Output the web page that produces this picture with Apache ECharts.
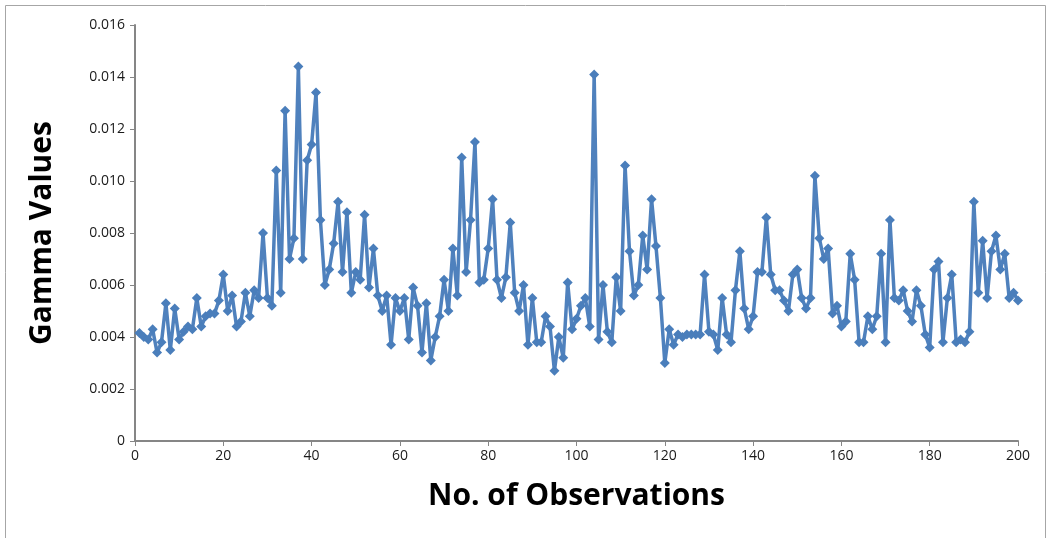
<!DOCTYPE html>
<html>
<head>
<meta charset="utf-8">
<script src="https://cdn.jsdelivr.net/npm/echarts@6/dist/echarts.min.js"></script>
<style>
html,body{margin:0;padding:0;background:#fff;}
#c{width:1048px;height:538px;}
</style>
</head>
<body>
<div id="c"></div>
<script>
const observations = Array.from({length: 200}, (_, i) => i + 1);
const gammaValues = [
0.00415,0.0040,0.0039,0.0043,0.0034,0.0038,0.0053,0.0035,0.0051,0.0039,
0.0042,0.0044,0.0043,0.0055,0.0044,0.0048,0.0049,0.0049,0.0054,0.0064,
0.0050,0.0056,0.0044,0.0046,0.0057,0.0048,0.0058,0.0055,0.0080,0.0055,
0.0052,0.0104,0.0057,0.0127,0.0070,0.0078,0.0144,0.0070,0.0108,0.0114,
0.0134,0.0085,0.0060,0.0066,0.0076,0.0092,0.0065,0.0088,0.0057,0.0065,
0.0062,0.0087,0.0059,0.0074,0.0056,0.0050,0.0056,0.0037,0.0055,0.0050,
0.0055,0.0039,0.0059,0.0052,0.0034,0.0053,0.0031,0.0040,0.0048,0.0062,
0.0050,0.0074,0.0056,0.0109,0.0065,0.0085,0.0115,0.0061,0.0062,0.0074,
0.0093,0.0062,0.0055,0.0063,0.0084,0.0057,0.0050,0.0060,0.0037,0.0055,
0.0038,0.0038,0.0048,0.0044,0.0027,0.0040,0.0032,0.0061,0.0043,0.0047,
0.0052,0.0055,0.0044,0.0141,0.0039,0.0060,0.0042,0.0038,0.0063,0.0050,
0.0106,0.0073,0.0056,0.0060,0.0079,0.0066,0.0093,0.0075,0.0055,0.0030,
0.0043,0.0037,0.0041,0.0040,0.0041,0.0041,0.0041,0.0041,0.0064,0.0042,
0.0041,0.0035,0.0055,0.0041,0.0038,0.0058,0.0073,0.0051,0.0043,0.0048,
0.0065,0.0065,0.0086,0.0064,0.0058,0.0058,0.0054,0.0050,0.0064,0.0066,
0.0055,0.0051,0.0055,0.0102,0.0078,0.0070,0.0074,0.0049,0.0052,0.0044,
0.0046,0.0072,0.0062,0.0038,0.0038,0.0048,0.0043,0.0048,0.0072,0.0038,
0.0085,0.0055,0.0054,0.0058,0.0050,0.0046,0.0058,0.0052,0.0041,0.0036,
0.0066,0.0069,0.0038,0.0055,0.0064,0.0038,0.0039,0.0038,0.0042,0.0092,
0.0057,0.0077,0.0055,0.0073,0.0079,0.0066,0.0072,0.0055,0.0057,0.0054
];
const xTitle = 'No. of Observations';
const yTitle = 'Gamma Values';

const chart = echarts.init(document.getElementById('c'), null, {renderer: 'canvas'});
const axisLabelStyle = {color: '#1a1a1a', fontSize: 14, fontFamily: 'Open Sans'};
chart.setOption({
  animation: false,
  backgroundColor: '#fff',
  graphic: [{
    type: 'rect', silent: true,
    shape: {x: 5.5, y: 5.5, width: 1040, height: 545},
    style: {fill: 'none', stroke: '#a6a6a6', lineWidth: 1}
  }],
  grid: {left: 135, right: 30, top: 25, bottom: 97},
  xAxis: {
    type: 'value', min: 0, max: 200, interval: 20,
    name: xTitle, nameLocation: 'middle', nameGap: 40,
    nameTextStyle: {fontSize: 30, fontWeight: 'bold', color: '#000', fontFamily: 'Open Sans'},
    axisLine: {show: true, lineStyle: {color: '#868686', width: 2}},
    axisTick: {show: true, length: 5, lineStyle: {color: '#868686'}},
    axisLabel: Object.assign({margin: 8}, axisLabelStyle),
    splitLine: {show: false}
  },
  yAxis: {
    type: 'value', min: 0, max: 0.016, interval: 0.002,
    name: yTitle, nameLocation: 'middle', nameGap: 78,
    nameTextStyle: {fontSize: 30, fontWeight: 'bold', color: '#000', fontFamily: 'Open Sans'},
    axisLine: {show: true, lineStyle: {color: '#868686', width: 2}},
    axisTick: {show: true, length: 5, lineStyle: {color: '#868686'}},
    axisLabel: Object.assign({margin: 10, formatter: v => v === 0 ? '0' : v.toFixed(3)}, axisLabelStyle),
    splitLine: {show: false}
  },
  series: [{
    type: 'line',
    data: observations.map((x, i) => [x, gammaValues[i]]),
    symbol: 'diamond', symbolSize: 10,
    lineStyle: {color: '#4f81bd', width: 3.5},
    itemStyle: {color: '#4a7ebb'}
  }]
});
</script>
</body>
</html>
